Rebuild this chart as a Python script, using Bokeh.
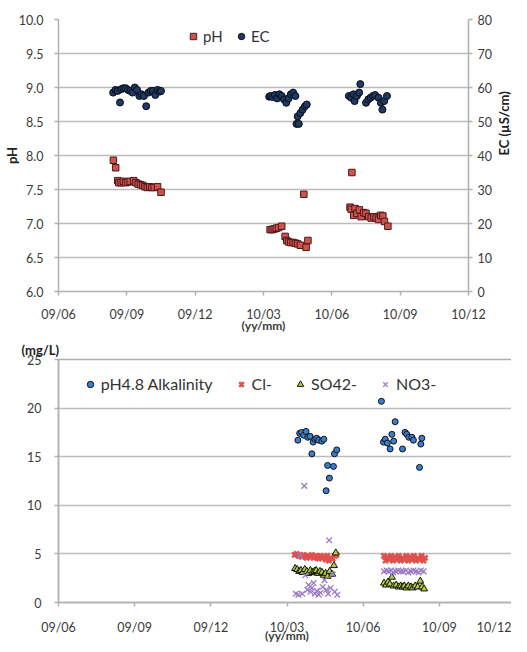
import math
from bokeh.plotting import figure
from bokeh.models import (Range1d, LinearAxis, FixedTicker, Legend, LegendItem,
                          NumeralTickFormatter)
from bokeh.layouts import column
from bokeh.embed import file_html
from bokeh.resources import INLINE

# months counted from 2009/06 (0) to 2010/12 (18)
tick_months = [0, 3, 6, 9, 12, 15, 18]
tick_labels = ["09/06", "09/09", "09/12", "10/03", "10/06", "10/09", "10/12"]

ph_month = [2.41, 2.51, 2.60, 2.65, 2.75, 2.85, 2.95, 3.05, 3.15, 3.30, 3.40, 3.50, 3.60, 3.70,
            3.80, 3.90, 4.00, 4.10, 4.20, 4.35, 4.50,
            9.29, 9.38, 9.47, 9.56, 9.66, 9.80, 9.95, 10.02, 10.10, 10.20, 10.30, 10.40, 10.50,
            10.62, 10.77, 10.87, 10.95,
            12.88, 12.80, 12.85, 12.96, 13.02, 13.10, 13.21, 13.29, 13.40, 13.50, 13.62, 13.73,
            13.85, 13.95, 14.05, 14.15, 14.24, 14.31, 14.46]
ph_value = [7.93, 7.82, 7.63, 7.60, 7.60, 7.62, 7.60, 7.61, 7.62, 7.63, 7.60, 7.58, 7.57, 7.56,
            7.54, 7.53, 7.54, 7.53, 7.53, 7.54, 7.46,
            6.91, 6.91, 6.92, 6.93, 6.94, 6.96, 6.81, 6.75, 6.73, 6.72, 6.72, 6.71, 6.70,
            6.68, 7.43, 6.65, 6.75,
            7.75, 7.24, 7.21, 7.12, 7.22, 7.15, 7.20, 7.10, 7.16, 7.15, 7.10, 7.08,
            7.10, 7.08, 7.06, 7.12, 7.11, 7.03, 6.96]

ec_month = [2.40, 2.50, 2.60, 2.70, 2.75, 2.85, 2.95, 3.05, 3.15, 3.25, 3.35, 3.45, 3.55, 3.65,
            3.75, 3.85, 3.95, 4.05, 4.15, 4.25, 4.35, 4.45, 4.50,
            9.25, 9.30, 9.40, 9.50, 9.60, 9.70, 9.80, 9.90, 10.00, 10.10, 10.20, 10.30, 10.40,
            10.45, 10.55, 10.50, 10.62, 10.72, 10.82, 10.90,
            12.75, 12.85, 12.95, 13.00, 13.10, 13.20, 13.25, 13.50, 13.60, 13.70, 13.80, 13.90,
            14.05, 14.15, 14.22, 14.30, 14.42]
ec_value = [58.5, 59.3, 59.0, 55.6, 59.5, 59.8, 59.8, 59.3, 59.0, 58.5, 60.0, 59.3, 57.5, 58.0,
            57.5, 54.5, 58.5, 59.0, 59.0, 57.8, 59.3, 58.8, 59.0,
            57.3, 57.5, 57.2, 57.8, 56.8, 58.0, 57.5, 56.5, 55.5, 56.8, 58.0, 58.5, 57.5,
            49.3, 49.3, 51.5, 52.5, 53.5, 54.5, 55.0,
            57.5, 57.0, 58.0, 56.0, 57.5, 58.5, 61.0, 55.5, 56.5, 57.0, 57.5, 57.8,
            57.0, 55.5, 53.5, 56.0, 57.5]

alk_month = [9.43, 9.50, 9.58, 9.66, 9.75, 9.82, 9.91, 9.98, 10.03, 10.10, 10.17, 10.25, 10.37,
             10.45, 10.54, 10.60, 10.67, 10.83, 10.87, 10.96,
             12.72, 12.80, 12.87, 12.95, 13.06, 13.13, 13.20, 13.26, 13.55, 13.65, 13.72,
             13.80, 13.92, 13.98, 14.22, 14.27, 14.31]
alk_value = [16.7, 17.4, 17.5, 17.2, 17.6, 17.0, 17.1, 15.3, 16.5, 16.8, 16.9, 16.7, 16.6,
             16.8, 11.5, 14.1, 12.8, 14.0, 15.3, 15.7,
             20.7, 16.5, 16.8, 16.4, 15.8, 17.3, 16.6, 18.6, 15.8, 17.5, 17.3,
             17.0, 17.0, 16.7, 13.9, 16.3, 16.9]

cl_month = [9.30, 9.38, 9.45, 9.52, 9.58, 9.65, 9.72, 9.78, 9.85, 9.92, 9.98, 10.05, 10.12,
            10.18, 10.25, 10.32, 10.38, 10.45, 10.52, 10.58, 10.65, 10.72, 10.80, 10.88, 10.95,
            12.82, 12.88, 12.95, 13.02, 13.10, 13.18, 13.25, 13.32, 13.40, 13.48, 13.55, 13.62,
            13.70, 13.78, 13.85, 13.92, 14.00, 14.08, 14.15, 14.22, 14.30, 14.38, 14.44]
cl_value = [4.9, 5.0, 4.8, 4.9, 4.7, 4.9, 4.8, 4.6, 4.8, 4.7, 4.9, 4.6, 4.8,
            4.7, 4.5, 4.8, 4.6, 4.7, 4.4, 4.8, 4.3, 4.6, 4.5, 4.8, 4.9,
            4.8, 4.3, 4.7, 4.4, 4.8, 4.3, 4.7, 4.4, 4.8, 4.3, 4.6, 4.4,
            4.8, 4.3, 4.7, 4.4, 4.8, 4.3, 4.6, 4.4, 4.8, 4.3, 4.6]

so4_month = [9.32, 9.40, 9.48, 9.55, 9.62, 9.70, 9.78, 9.85, 9.92, 10.00, 10.08, 10.15, 10.22,
             10.30, 10.38, 10.45, 10.52, 10.60, 10.68, 10.78, 10.85, 10.92,
             12.82, 12.90, 12.98, 13.05, 13.13, 13.20, 13.30, 13.40, 13.48, 13.55, 13.62, 13.70,
             13.78, 13.88, 13.95, 14.05, 14.15, 14.25, 14.32, 14.40]
so4_value = [3.5, 3.4, 3.2, 3.3, 3.1, 3.4, 3.2, 3.0, 3.3, 3.1, 3.2, 3.3, 3.0,
             3.2, 3.1, 2.8, 3.0, 2.7, 3.2, 2.9, 3.8, 5.1,
             2.0, 1.8, 2.1, 1.9, 2.6, 1.7, 1.8, 1.6, 1.7, 1.6, 1.7, 1.5,
             1.7, 1.6, 1.5, 1.7, 1.6, 2.2, 1.6, 1.4]

no3_month = [9.35, 9.45, 9.52, 9.60, 9.68, 9.72, 9.80, 9.85, 9.92, 9.98, 10.05, 10.10, 10.18,
             10.25, 10.32, 10.40, 10.48, 10.55, 10.62, 10.66, 10.72, 10.80, 10.88, 10.98,
             12.82, 12.92, 13.00, 13.10, 13.18, 13.28, 13.38, 13.48, 13.58, 13.68, 13.78, 13.88,
             13.98, 14.08, 14.18, 14.28, 14.38]
no3_value = [0.9, 0.8, 4.8, 0.9, 12.0, 2.8, 1.3, 1.8, 1.1, 1.5, 2.0, 0.9, 1.2,
             0.8, 1.0, 1.6, 2.3, 1.3, 0.9, 6.4, 1.5, 2.9, 1.1, 0.8,
             3.2, 3.3, 3.2, 3.3, 3.1, 3.2, 3.3, 3.2, 3.2, 3.3, 3.1, 3.2,
             3.3, 3.2, 3.1, 3.3, 3.2]

ph_ticks = [6.0, 6.5, 7.0, 7.5, 8.0, 8.5, 9.0, 9.5, 10.0]
ec_ticks = [0, 10, 20, 30, 40, 50, 60, 70, 80]
mg_ticks = [0, 5, 10, 15, 20, 25]

FONT = "Lato"
AX = "#b0b0b0"
TXT = "#3a3a3a"
GRID = "#bdbdbd"


def style_axis(ax, standoff):
    ax.axis_line_color = AX
    ax.axis_line_width = 1.5
    ax.major_tick_line_color = AX
    ax.major_tick_line_width = 1.5
    ax.major_tick_in = 0
    ax.major_tick_out = 4
    ax.minor_tick_line_color = None
    ax.major_label_text_font = FONT
    ax.major_label_text_font_size = "12.5px"
    ax.major_label_text_color = TXT
    ax.major_label_standoff = standoff


def style_xlabel(ax, standoff):
    ax.axis_label = "(yy/mm)"
    ax.axis_label_text_font = FONT
    ax.axis_label_text_font_size = "12px"
    ax.axis_label_text_font_style = "bold"
    ax.axis_label_text_color = TXT
    ax.axis_label_standoff = standoff


# ---------------- top chart ----------------
p1 = figure(frame_width=410, frame_height=272, x_range=Range1d(0, 18), y_range=Range1d(6, 10),
            output_backend="svg", toolbar_location=None,
            min_border_left=56, min_border_right=30, min_border_top=19, min_border_bottom=20)
p1.outline_line_color = None
p1.xgrid.visible = False
p1.extra_y_ranges = {"ec": Range1d(0, 80)}

p1.xaxis.ticker = FixedTicker(ticks=tick_months)
p1.xaxis.major_label_overrides = {m: l for m, l in zip(tick_months, tick_labels)}
style_axis(p1.xaxis[0], 11)
style_xlabel(p1.xaxis[0], -7)
p1.yaxis.ticker = FixedTicker(ticks=ph_ticks)
p1.yaxis.formatter = NumeralTickFormatter(format="0.0")
style_axis(p1.yaxis[0], 11)
p1.yaxis.axis_label = "pH"
p1.yaxis.axis_label_text_font = FONT
p1.yaxis.axis_label_text_font_style = "bold"
p1.yaxis.axis_label_text_font_size = "13px"
p1.yaxis.axis_label_text_color = "#222222"
p1.yaxis.axis_label_standoff = -4
p1.ygrid.grid_line_color = GRID
p1.ygrid.grid_line_width = 1.5

ax_ec = LinearAxis(y_range_name="ec", ticker=FixedTicker(ticks=ec_ticks))
style_axis(ax_ec, 5)
ax_ec.axis_label = "EC  (µS/cm)"
ax_ec.axis_label_text_font = FONT
ax_ec.axis_label_text_font_style = "bold"
ax_ec.axis_label_text_font_size = "13px"
ax_ec.axis_label_text_color = "#222222"
ax_ec.axis_label_standoff = 9
if hasattr(ax_ec, "axis_label_orientation"):
    ax_ec.axis_label_orientation = math.pi / 2
p1.add_layout(ax_ec, "right")

r_ph = p1.scatter(ph_month, ph_value, marker="square", size=6.5,
                  fill_color="#d0524f", line_color="#4a1a1a", line_width=1)
r_ec = p1.scatter(ec_month, ec_value, y_range_name="ec", marker="circle", size=7,
                  fill_color="#1d3a63", line_color="#0a0a14", line_width=1)

leg1 = Legend(items=[LegendItem(label="pH", renderers=[r_ph]),
                     LegendItem(label="EC", renderers=[r_ec])],
              orientation="horizontal", location=(127, 246),
              glyph_width=16, glyph_height=16, label_height=16, label_standoff=2,
              spacing=10, padding=0, margin=0, border_line_color=None,
              background_fill_alpha=0, label_text_font=FONT,
              label_text_font_size="15px", label_text_color="#333333")
p1.add_layout(leg1)

# ---------------- bottom chart ----------------
p2 = figure(frame_width=457, frame_height=243, x_range=Range1d(0, 18), y_range=Range1d(0, 25),
            output_backend="svg", toolbar_location=None,
            min_border_left=42, min_border_right=12, min_border_top=24, min_border_bottom=20)
p2.outline_line_color = AX
p2.outline_line_width = 1.5
p2.xgrid.visible = False
p2.xaxis.ticker = FixedTicker(ticks=tick_months)
p2.xaxis.major_label_overrides = {m: l for m, l in zip(tick_months, tick_labels)}
style_axis(p2.xaxis[0], 13)
style_xlabel(p2.xaxis[0], -10)
p2.yaxis.ticker = FixedTicker(ticks=mg_ticks)
style_axis(p2.yaxis[0], 13)
p2.ygrid.grid_line_color = GRID
p2.ygrid.grid_line_width = 1.5

p2.title.text = "(mg/L)"
p2.title.align = "left"
p2.title.offset = -37
p2.title.standoff = 3
p2.title.text_font = FONT
p2.title.text_font_size = "13px"
p2.title.text_font_style = "bold"
p2.title.text_color = "#222222"

r_alk = p2.scatter(alk_month, alk_value, marker="circle", size=6,
                   fill_color="#3a7fcc", line_color="#111111", line_width=1)
r_cl = p2.scatter(cl_month, cl_value, marker="x", size=7, line_color="#e0504c", line_width=2.5)
r_so4 = p2.scatter(so4_month, so4_value, marker="triangle", size=7,
                   fill_color="#b3d23a", line_color="#111111", line_width=1)
r_no3 = p2.scatter(no3_month, no3_value, marker="x", size=8, line_color="#9a7cc9", line_width=1.3)

leg2 = Legend(items=[LegendItem(label="pH4.8 Alkalinity", renderers=[r_alk]),
                     LegendItem(label="Cl-", renderers=[r_cl]),
                     LegendItem(label="SO42-", renderers=[r_so4]),
                     LegendItem(label="NO3-", renderers=[r_no3])],
               orientation="horizontal", location=(41, 209),
               glyph_width=16, glyph_height=16, label_height=16, label_standoff=3,
               spacing=20, padding=0, margin=0, border_line_color=None,
               background_fill_alpha=0, label_text_font=FONT,
               label_text_font_size="16px", label_text_color="#333333")
p2.add_layout(leg2)

layout = column(p1, p2, spacing=0)
open("out.html", "w").write(file_html(layout, INLINE))
